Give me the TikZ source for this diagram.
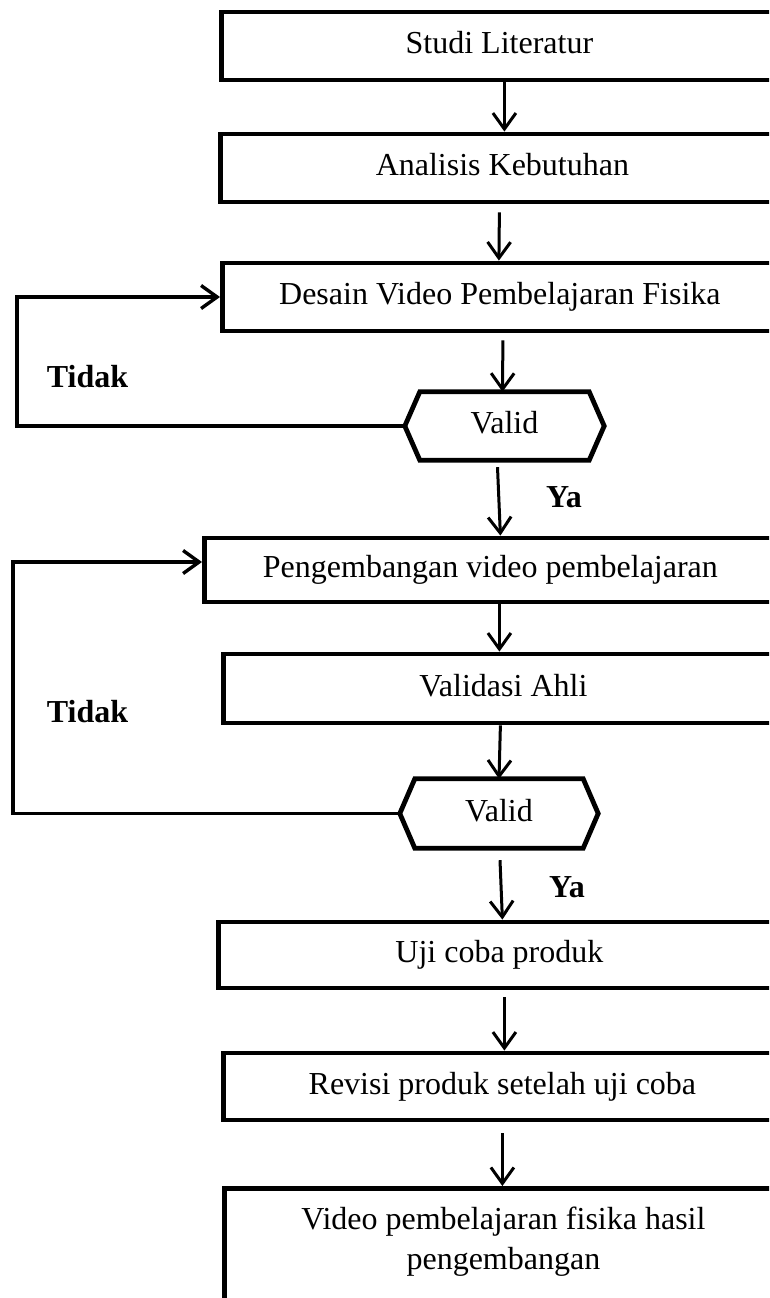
\documentclass[tikz,border=0pt]{standalone}
\usepackage{fontspec}
\setmainfont{Liberation Serif}
\usetikzlibrary{arrows.meta,calc}
\begin{document}
\begin{tikzpicture}[x=1pt,y=-1pt,
  txt/.style={font=\fontsize{32}{40}\selectfont},
  stepbox/.style={txt,draw,line width=4.8pt,rectangle,anchor=west,inner sep=0pt,
     text height=22pt,text depth=7pt},
  hexnode/.style={txt,inner sep=0pt,text height=22pt,text depth=7pt},
  hexline/.style={line width=4.8pt,line join=miter},
  arr/.style={line width=3pt,-{Straight Barb[length=16pt,width=23pt]}},
  fbarr/.style={line width=3.4pt,line join=miter,-{Straight Barb[length=16pt,width=23pt]}},
  lbl/.style={font=\fontsize{32}{40}\selectfont\bfseries,anchor=base,inner sep=0pt}]
\useasboundingbox (0,0) rectangle (769,1298);
\clip (0,0) rectangle (769,1298);
\fill[white] (0,0) rectangle (769,1298);

% boxes
\node[stepbox,minimum width=556pt,minimum height=68pt] (b1) at (219,46) {Studi Literatur};
\node[stepbox,minimum width=564pt,minimum height=68pt] (b2) at (218,168) {Analisis Kebutuhan};
\node[stepbox,minimum width=555pt,minimum height=68pt] (b3) at (220,297) {Desain Video Pembelajaran Fisika};
\node[hexnode,minimum width=199pt,minimum height=68pt] (v1) at (504.5,426) {Valid};
\node[stepbox,minimum width=572pt,minimum height=64pt] (b4) at (202,570) {Pengembangan video pembelajaran};
\node[stepbox,minimum width=560pt,minimum height=69pt] (b5) at (221,688.5) {Validasi Ahli};
\node[hexnode,minimum width=198pt,minimum height=69pt] (v2) at (499,813.5) {Valid};
\node[stepbox,minimum width=562pt,minimum height=66pt] (b6) at (216,955) {Uji coba produk};
\node[stepbox,minimum width=558pt,minimum height=67pt] (b7) at (221,1086.5) {Revisi produk setelah uji coba};
\node[txt,draw,line width=4.8pt,rectangle,anchor=north west,inner sep=0pt,
      minimum width=558pt,minimum height=200pt,align=center,
      text height=62pt,text depth=100pt] (b8) at (222,1186)
      {Video pembelajaran fisika hasil\\pengembangan};

% hexagon outlines
\foreach \v in {v1,v2}{
  \draw[hexline] (\v.west) -- ([xshift=15pt]\v.north west) -- ([xshift=-15pt]\v.north east)
     -- (\v.east) -- ([xshift=-15pt]\v.south east) -- ([xshift=15pt]\v.south west) -- cycle;
}

% labels
\node[lbl] (t1) at (87.5,387) {Tidak};
\node[lbl] (t2) at (87.5,722) {Tidak};
\node[lbl] (y1) at (564,507) {Ya};
\node[lbl] (y2) at (567,897) {Ya};

% arrows
\draw[arr] ([xshift=5pt]b1.south) -- ([xshift=2pt]b2.north);
\draw[arr] ([xshift=-3pt,yshift=-8pt]b2.south) -- ([xshift=-1pt]b3.north);
\draw[arr] ([xshift=3pt,yshift=-7pt]b3.south) -- ([xshift=-2pt]v1.north);
\draw[arr] ([xshift=-7pt,yshift=-7pt]v1.south) -- ([xshift=10pt]b4.north);
\draw[arr] ([xshift=9pt]b4.south) -- ([xshift=-4pt]b5.north);
\draw[arr] ([xshift=-3pt]b5.south) -- (v2.north);
\draw[arr] ([xshift=1pt,yshift=-12pt]v2.south) -- ([xshift=3pt]b6.north);
\draw[arr] ([xshift=5pt,yshift=-7pt]b6.south) -- ([xshift=2pt]b7.north);
\draw[arr] ([yshift=-11pt]b7.south) -- ([xshift=-1pt]b8.north);

% feedback loops
\coordinate (c1) at (17,0);
\coordinate (c2) at (13,0);
\draw[fbarr] (v1.west) -- (v1.west -| c1) |- (b3.west);
\draw[fbarr] (v2.west) -- (v2.west -| c2) |- ([yshift=8pt]b4.west);
\end{tikzpicture}
\end{document}
